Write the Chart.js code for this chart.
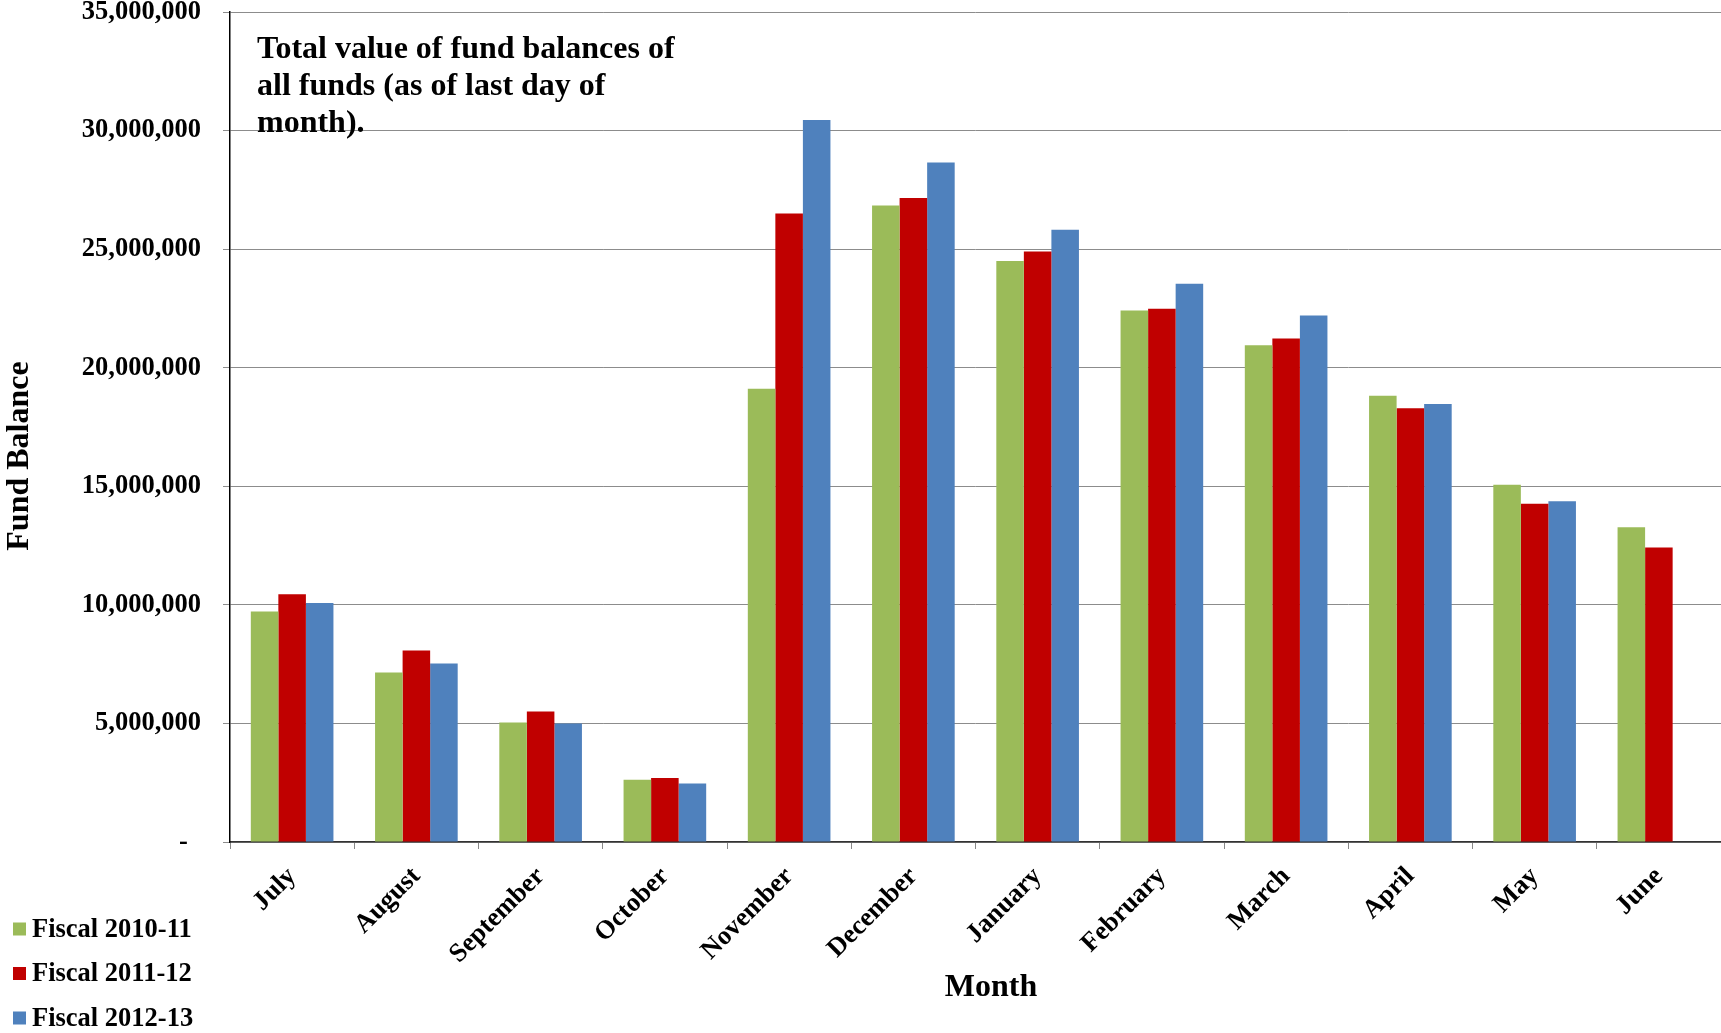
<!DOCTYPE html>
<html>
<head>
<meta charset="utf-8">
<script src="https://cdn.jsdelivr.net/npm/chart.js@4/dist/chart.umd.min.js"></script>
<style>
  html, body { margin: 0; padding: 0; background: #ffffff; }
  #wrap { width: 1721px; height: 1033px; position: relative; }
</style>
</head>
<body>
<div id="wrap"><canvas id="c" width="1721" height="1033"></canvas></div>
<script>
// ---- data ----
const months = ['July', 'August', 'September', 'October', 'November', 'December',
                'January', 'February', 'March', 'April', 'May', 'June'];
const fiscal2010_11 = [9720000, 7150000, 5040000, 2620000, 19110000, 26840000,
                       24500000, 22410000, 20950000, 18820000, 15060000, 13270000];
const fiscal2011_12 = [10450000, 8080000, 5500000, 2700000, 26500000, 27160000,
                       24900000, 22490000, 21230000, 18290000, 14260000, 12420000];
const fiscal2012_13 = [10080000, 7530000, 5000000, 2470000, 30450000, 28650000,
                       25820000, 23540000, 22200000, 18470000, 14370000, null];
const seriesNames = ['Fiscal 2010-11', 'Fiscal 2011-12', 'Fiscal 2012-13'];
const seriesColors = ['#9BBB59', '#C00000', '#4F81BD'];
const yTickValues = [0, 5000000, 10000000, 15000000, 20000000, 25000000, 30000000, 35000000];
const yTickLabels = ['-  ', '5,000,000', '10,000,000', '15,000,000', '20,000,000',
                     '25,000,000', '30,000,000', '35,000,000'];
const noteLines = ['Total value of fund balances of', 'all funds (as of last day of', 'month).'];
const xTitle = 'Month';
const yTitle = 'Fund Balance';

const FONT = "'Liberation Serif', 'Times New Roman', serif";

const extras = {
  id: 'extras',
  afterDraw(chart) {
    const ctx = chart.ctx;
    const area = chart.chartArea;
    ctx.save();
    ctx.fillStyle = '#000';
    // note text inside plot
    ctx.font = 'bold 32px ' + FONT;
    ctx.textAlign = 'left';
    ctx.textBaseline = 'middle';
    noteLines.forEach((t, i) => ctx.fillText(t, area.left + 27, 50 + i * 37));
    // x axis title
    ctx.textAlign = 'center';
    ctx.fillText(xTitle, 991, 988);
    // y axis title
    ctx.save();
    ctx.translate(20, 456);
    ctx.rotate(-Math.PI / 2);
    ctx.fillText(yTitle, 0, 0);
    ctx.restore();
    // legend
    ctx.font = 'bold 26.5px ' + FONT;
    ctx.textAlign = 'left';
    chart.data.datasets.forEach((ds, i) => {
      const cy = 929 + i * 44.5;
      ctx.fillStyle = ds.backgroundColor;
      ctx.fillRect(13, cy - 6.5, 13, 13);
      ctx.fillStyle = '#000';
      ctx.fillText(ds.label, 32, cy + 1);
    });
    ctx.restore();
  }
};

new Chart(document.getElementById('c'), {
  type: 'bar',
  data: {
    labels: months,
    datasets: [
      { label: seriesNames[0], data: fiscal2010_11, backgroundColor: seriesColors[0] },
      { label: seriesNames[1], data: fiscal2011_12, backgroundColor: seriesColors[1] },
      { label: seriesNames[2], data: fiscal2012_13, backgroundColor: seriesColors[2] }
    ]
  },
  options: {
    responsive: false,
    animation: false,
    devicePixelRatio: 1,
    layout: { padding: { top: 12, left: 0, right: 0, bottom: 0 } },
    datasets: { bar: { categoryPercentage: 0.665, barPercentage: 1.0, borderWidth: 0 } },
    plugins: { legend: { display: false }, tooltip: { enabled: false }, title: { display: false } },
    scales: {
      x: {
        grid: { offset: true, drawOnChartArea: false, drawTicks: true, tickLength: 7, color: '#888888' },
        border: { display: true, color: '#333333', width: 1.5 },
        ticks: {
          autoSkip: false, maxRotation: 45, minRotation: 45, padding: 12,
          color: '#000', font: { family: FONT, size: 26.5, weight: 'bold' }
        },
        afterFit(scale) {
          scale.height = 1033 - 842;
          scale.paddingLeft = 0; scale.paddingRight = 0;
        }
      },
      y: {
        min: 0, max: 35000000,
        afterBuildTicks(scale) { scale.ticks = yTickValues.map(v => ({ value: v })); },
        grid: { color: '#8c8c8c', lineWidth: 1, tickLength: 7, drawTicks: true },
        border: { display: true, color: '#000000', width: 1.5 },
        ticks: {
          padding: 22, color: '#000',
          font: { family: FONT, size: 26.5, weight: 'bold' },
          callback: (v) => { const i = yTickValues.indexOf(v); return i >= 0 ? yTickLabels[i] : ''; }
        },
        afterFit(scale) {
          scale.width = 230;
          scale.paddingTop = 0; scale.paddingBottom = 0;
        }
      }
    }
  },
  plugins: [extras]
});
</script>
</body>
</html>
